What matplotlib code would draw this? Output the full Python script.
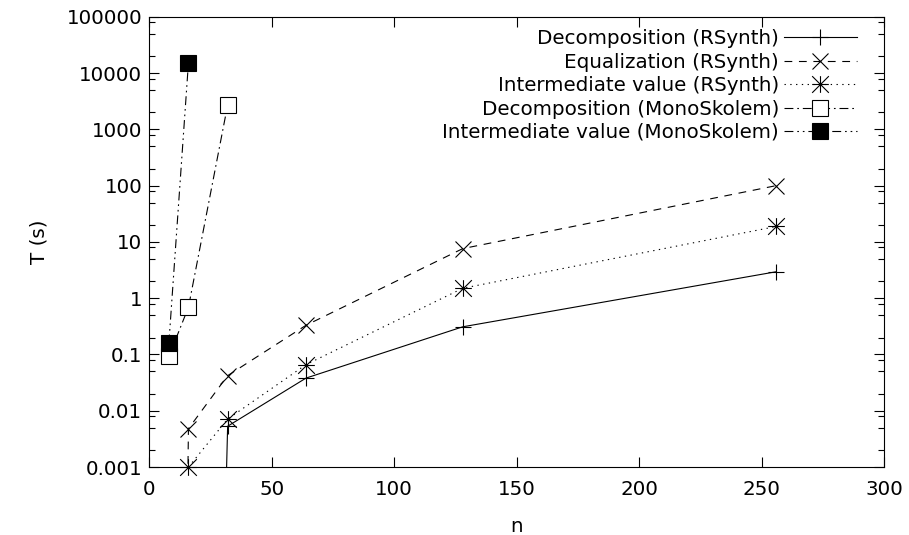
import numpy as np
import matplotlib
matplotlib.use('Agg')
import matplotlib.pyplot as plt
from matplotlib.path import Path
from matplotlib.ticker import LogLocator, FixedLocator, NullFormatter

# running times (s) against problem size n
# (the first entry of the two RSynth curves below is ~0 s, it sits far below the axis)
dec_rs_n = [16, 32, 64, 128, 256]
dec_rs_t = [1e-30, 0.0053, 0.038, 0.31, 2.95]

eq_rs_n = [8, 16, 32, 64, 128, 256]
eq_rs_t = [1e-30, 0.0048, 0.042, 0.33, 7.6, 100]

iv_rs_n = [16, 32, 64, 128, 256]
iv_rs_t = [0.001, 0.0071, 0.066, 1.5, 18.8]

dec_ms_n = [8, 16, 32]
dec_ms_t = [0.092, 0.69, 2700]

iv_ms_n = [8, 16]
iv_ms_t = [0.157, 15200]

labels = ['Decomposition (RSynth)', 'Equalization (RSynth)',
          'Intermediate value (RSynth)', 'Decomposition (MonoSkolem)',
          'Intermediate value (MonoSkolem)']

yticks = [0.001, 0.01, 0.1, 1, 10, 100, 1000, 10000, 100000]
ytick_labels = ['0.001', '0.01', '0.1', '1', '10', '100', '1000', '10000', '100000']
xticks = [0, 50, 100, 150, 200, 250, 300]

# gnuplot style "*" point: a plus and a cross on top of each other
star = Path([(-1, 0), (1, 0), (0, -1), (0, 1), (-1, -1), (1, 1), (-1, 1), (1, -1)],
            [Path.MOVETO, Path.LINETO] * 4)

plt.rcParams['font.family'] = 'DejaVu Sans'
plt.rcParams['font.size'] = 14.3

fig = plt.figure(figsize=(9.09, 5.35), dpi=100)
ax = fig.add_axes([0.1642, 0.1271, 0.8083, 0.8415])
ax.set_yscale('log')

ymin = 0.001
series = [
    (dec_rs_n, dec_rs_t, '-', '+', 'none', 12),
    (eq_rs_n, eq_rs_t, (0, (7, 6)), 'x', 'none', 12),
    (iv_rs_n, iv_rs_t, (0, (1.2, 4)), star, 'none', 12),
    (dec_ms_n, dec_ms_t, (0, (8, 3.5, 1.5, 3.5)), 's', 'white', 11),
    (iv_ms_n, iv_ms_t, (0, (8, 3.5, 1.5, 3.5, 1.5, 3.5)), 's', 'black', 11),
]

handles = []
for (n, t, ls, mk, fc, ms), lab in zip(series, labels):
    n = np.array(n, dtype=float)
    t = np.array(t, dtype=float)
    ax.plot(n, t, color='black', lw=0.8, linestyle=ls, zorder=2)
    keep = t >= ymin
    ax.plot(n[keep], t[keep], linestyle='none', marker=mk, markersize=ms,
            markerfacecolor=fc, markeredgecolor='black', markeredgewidth=0.8,
            clip_on=False, zorder=3)
    h, = ax.plot([], [], color='black', lw=0.8, linestyle=ls, marker=mk,
                 markersize=ms, markerfacecolor=fc, markeredgecolor='black',
                 markeredgewidth=0.8, label=lab)
    handles.append(h)

ax.set_xlim(0, 300)
ax.set_ylim(0.001, 100000)
ax.set_xticks(xticks)
ax.yaxis.set_major_locator(FixedLocator(yticks))
ax.set_yticklabels(ytick_labels)
ax.yaxis.set_minor_locator(LogLocator(base=10, subs=(2, 5, 8), numticks=50))
ax.yaxis.set_minor_formatter(NullFormatter())

ax.tick_params(which='both', direction='in', top=True, right=True, width=0.8)
ax.tick_params(which='major', length=7)
ax.tick_params(which='minor', length=4.5)
ax.tick_params(axis='x', pad=9.5)
ax.tick_params(axis='y', pad=5)
for s in ax.spines.values():
    s.set_linewidth(0.8)

ax.set_xlabel('n', labelpad=12.5)
ax.set_ylabel('T (s)', labelpad=13)

ax.legend(handles=handles, loc='upper right', bbox_to_anchor=(0.963, 0.972),
          frameon=False, markerfirst=False, handlelength=3.66,
          handletextpad=0.25, labelspacing=0.22, borderpad=0,
          borderaxespad=0, numpoints=1)

fig.savefig('out.png', dpi=100)
